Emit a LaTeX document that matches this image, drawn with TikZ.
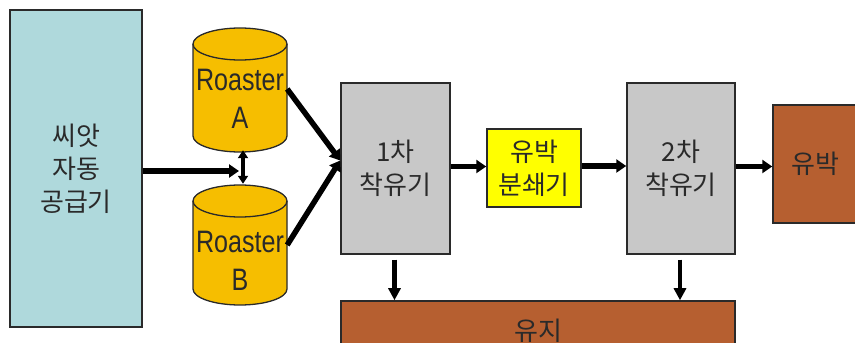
\documentclass[tikz,border=0pt]{standalone}
\usepackage{fontspec}
\setmainfont{Liberation Sans}
\newfontfamily\kr{Noto Sans CJK KR}
\newfontfamily\narrowsans[FakeStretch=0.81]{Liberation Sans}
\usetikzlibrary{arrows.meta,calc}

\definecolor{feedblue}{HTML}{AFD9DC}
\definecolor{cylgold}{HTML}{F6BE00}
\definecolor{boxgray}{HTML}{C8C8C8}
\definecolor{crushyellow}{HTML}{FFFF00}
\definecolor{cakebrown}{HTML}{B65F30}
\definecolor{inkgray}{HTML}{2A2A2A}

% roaster drum: centre x, y of top ellipse, y of bottom ellipse
\newcommand\roasterdrum[3]{%
  \filldraw[fill=cylgold, draw=inkgray, line width=1.3pt]
    (#1-47,#2) -- (#1-47,#3)
    arc[start angle=180, end angle=360, x radius=47pt, y radius=16pt]
    -- (#1+47,#2)
    arc[start angle=0, end angle=180, x radius=47pt, y radius=16pt] -- cycle;
  \draw[draw=inkgray, line width=1.3pt]
    (#1-47,#2) arc[start angle=180, end angle=360, x radius=47pt, y radius=16pt];
}

\tikzset{
  block/.style={draw=inkgray, line width=1.5pt, inner sep=0pt, align=center,
    text=inkgray, font=\kr\fontsize{26}{33}\selectfont},
  drumbox/.style={inner sep=0pt, minimum width=94pt, minimum height=122pt},
  drumlabel/.style={inner sep=0pt, align=center, text=inkgray,
    font=\narrowsans\fontsize{31}{38}\selectfont},
  flow/.style={line width=5.5pt, -{Triangle[length=10pt,width=13pt]}},
  dropflow/.style={line width=4.5pt, -{Triangle[length=12pt,width=12pt]}},
  linkflow/.style={line width=3.5pt, {Triangle[length=8pt,width=10pt]}-{Triangle[length=8pt,width=10pt]}},
}

\begin{document}
\begin{tikzpicture}[x=1pt, y=1pt]
\useasboundingbox (0,0) rectangle (855,343);
\clip (0,0) rectangle (855,343);
\fill[white] (0,0) rectangle (855,343);

% seed feeder
\node[block, fill=feedblue, minimum width=132pt, minimum height=317pt] (feed) at (76,174.5) {씨앗\\자동\\공급기};

% roasters
\roasterdrum{240}{299}{207}
\roasterdrum{240}{142}{54}
\node[drumbox] (ra) at (240,254) {};
\node[drumbox] (rb) at (240,98) {};
\node[drumlabel] (ralabel) at (240,244) {Roaster\\A};
\node[drumlabel] (rblabel) at (240,82) {Roaster\\B};

% presses, crusher, outputs
\node[block, fill=boxgray, minimum width=109pt, minimum height=171pt] (p1) at (395.5,174.5) {1차\\착유기};
\node[block, fill=crushyellow, minimum width=94pt, minimum height=78pt] (crush) at (534,175) {유박\\분쇄기};
\node[block, fill=boxgray, minimum width=108pt, minimum height=171pt] (p2) at (681,174.5) {2차\\착유기};
\node[block, fill=cakebrown, minimum width=84pt, minimum height=118pt] (cake) at (815,179) {유박};
\node[block, fill=cakebrown, minimum width=394pt, minimum height=59pt] (oil) at (538,12.5) {유지};

% connectors
\coordinate (join) at (239,172);
\draw[flow] (feed.east |- join) -- (join);
\draw[linkflow] ([xshift=3pt]ra.south) -- ([xshift=3pt]rb.north);
\draw[flow] (ra.east) -- ([yshift=8pt]p1.west);
\draw[flow] (rb.east) -- ([yshift=8pt]p1.west);
\draw[flow] ([yshift=2pt]p1.east) -- ([yshift=2pt]p1.east -| crush.west);
\draw[flow] ([yshift=2pt]crush.east) -- ([yshift=2pt]crush.east -| p2.west);
\draw[flow] ([yshift=2pt]p2.east) -- ([yshift=2pt]p2.east -| cake.west);
\draw[dropflow, shorten <=5pt] ([xshift=-1pt]p1.south) -- ([xshift=-1pt]p1.south |- oil.north);
\draw[dropflow, shorten <=5pt] ([xshift=-1pt]p2.south) -- ([xshift=-1pt]p2.south |- oil.north);
\end{tikzpicture}
\end{document}
